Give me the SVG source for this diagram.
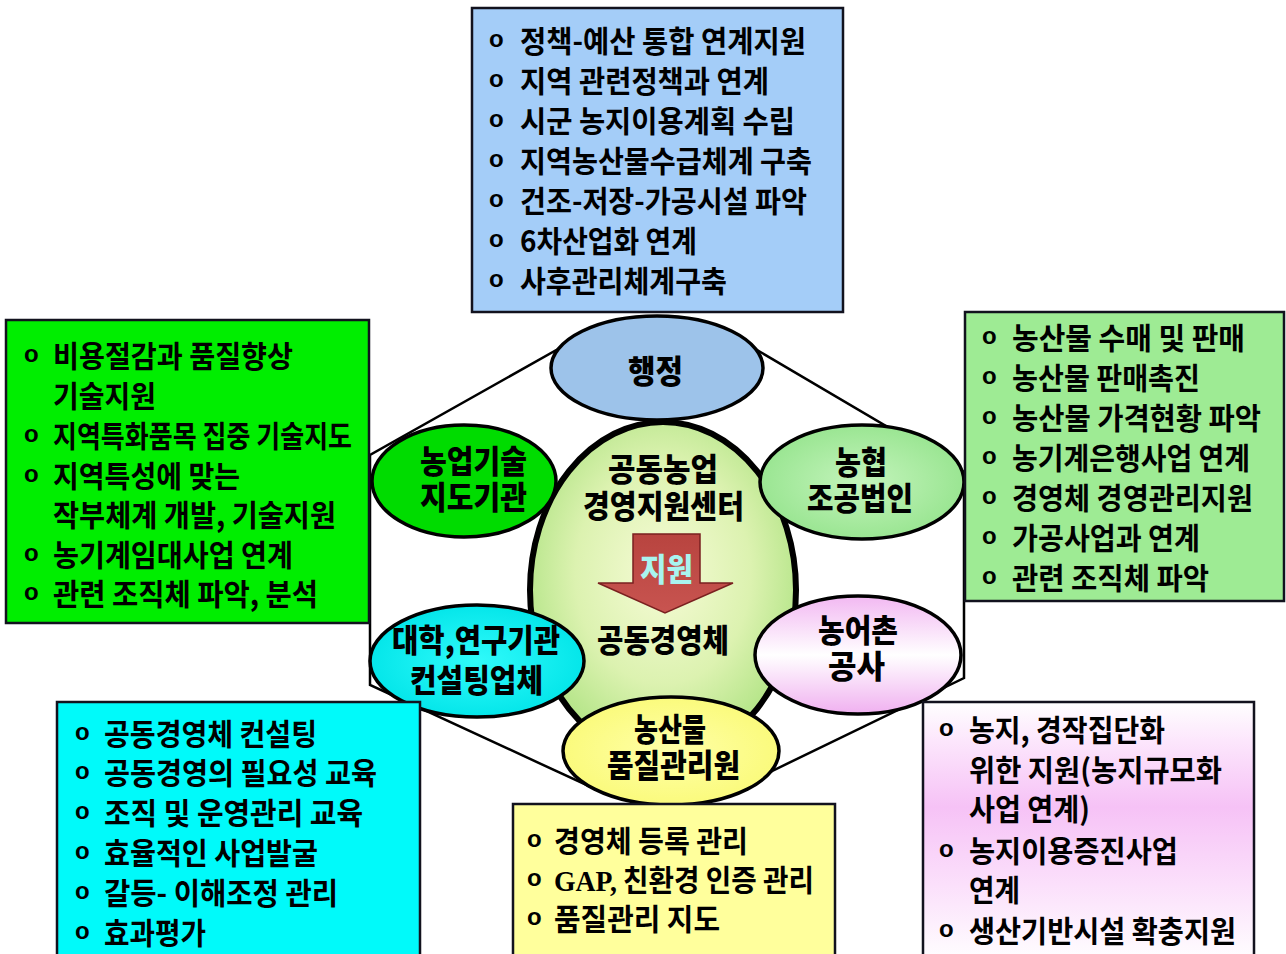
<svg xmlns="http://www.w3.org/2000/svg" width="1286" height="954" viewBox="0 0 1286 954">
<style>
.t{font-family:"Noto Sans CJK KR","Noto Sans CJK SC",sans-serif;font-weight:700;font-size:30px;fill:#000}
.b{font-family:"Liberation Sans",Arial,sans-serif;font-weight:700;font-size:24px;fill:#000}
.l{font-family:"Noto Sans CJK KR","Noto Sans CJK SC",sans-serif;font-weight:900;font-size:32px;fill:#000}
.box{stroke:#12121e;stroke-width:2.5}
.el{stroke:#000;stroke-width:3.5}
.hex{fill:none;stroke:#000;stroke-width:2.5}
</style>
<defs>
<radialGradient id="gc" cx="0.5" cy="0.45" r="0.55">
<stop offset="0" stop-color="#f6fbd6"/><stop offset="0.6" stop-color="#dcf2b0"/><stop offset="1" stop-color="#b2e486"/>
</radialGradient>
<radialGradient id="gn" cx="0.5" cy="0.5" r="0.55">
<stop offset="0" stop-color="#c4f4bc"/><stop offset="1" stop-color="#96e48e"/>
</radialGradient>
<radialGradient id="gcy" cx="0.5" cy="0.5" r="0.55">
<stop offset="0" stop-color="#30fafa"/><stop offset="1" stop-color="#00e4e8"/>
</radialGradient>
<radialGradient id="gy" cx="0.5" cy="0.5" r="0.55">
<stop offset="0" stop-color="#ffffa8"/><stop offset="1" stop-color="#fafa78"/>
</radialGradient>
<linearGradient id="gp" x1="0" y1="0" x2="0" y2="1">
<stop offset="0" stop-color="#f2b8f2"/><stop offset="0.5" stop-color="#ffffff"/><stop offset="1" stop-color="#f0b0f0"/>
</linearGradient>
<linearGradient id="gpb" x1="0" y1="0" x2="0" y2="1">
<stop offset="0" stop-color="#ffffff"/><stop offset="0.15" stop-color="#fce6fc"/><stop offset="0.4" stop-color="#f6c2f6"/><stop offset="0.7" stop-color="#fbe0fb"/><stop offset="1" stop-color="#ffffff"/>
</linearGradient>
<linearGradient id="ga" x1="0" y1="0" x2="0" y2="1">
<stop offset="0" stop-color="#b8443f"/><stop offset="1" stop-color="#c85450"/>
</linearGradient>
</defs>

<g id="connectors">
<polygon class="hex" points="560,348 757,350 964,472 964,678 770,772 593,788 370,685 370,455"/>
</g>

<g id="node-center">
<ellipse cx="663" cy="590" rx="133" ry="168" fill="url(#gc)" stroke="#000" stroke-width="6"/>
<text class="l" x="608" y="481" textLength="110" lengthAdjust="spacingAndGlyphs">공동농업</text>
<text class="l" x="583" y="518" textLength="161" lengthAdjust="spacingAndGlyphs">경영지원센터</text>
<polygon points="633,534 700,534 700,583 733,583 665,613 598,583 633,583" fill="url(#ga)" stroke="#7a2020" stroke-width="1.5"/>
<text class="l" x="640" y="581" textLength="53" lengthAdjust="spacingAndGlyphs" style="fill:#a8f4f0">지원</text>
<text class="l" x="597" y="652" textLength="132" lengthAdjust="spacingAndGlyphs">공동경영체</text>
</g>

<g id="node-haengjeong">
<ellipse class="el" cx="657" cy="368" rx="106" ry="52" fill="#9dc3ea"/>
<text class="l" x="628" y="383" textLength="55" lengthAdjust="spacingAndGlyphs">행정</text>
</g>

<g id="node-nongup">
<ellipse class="el" cx="464" cy="481" rx="92" ry="56" fill="#00dc00"/>
<text class="l" x="420" y="473" textLength="107" lengthAdjust="spacingAndGlyphs">농업기술</text>
<text class="l" x="420" y="509" textLength="107" lengthAdjust="spacingAndGlyphs">지도기관</text>
</g>

<g id="node-nonghyup">
<ellipse class="el" cx="862" cy="482" rx="102" ry="57" fill="url(#gn)"/>
<text class="l" x="835" y="474" textLength="52" lengthAdjust="spacingAndGlyphs">농협</text>
<text class="l" x="807" y="510" textLength="106" lengthAdjust="spacingAndGlyphs">조공법인</text>
</g>

<g id="node-univ">
<ellipse class="el" cx="477" cy="661" rx="107" ry="56" fill="url(#gcy)"/>
<text class="l" x="392" y="652" textLength="168" lengthAdjust="spacingAndGlyphs">대학,연구기관</text>
<text class="l" x="410" y="692" textLength="133" lengthAdjust="spacingAndGlyphs">컨설팅업체</text>
</g>

<g id="node-nongeochon">
<ellipse class="el" cx="858" cy="655" rx="103" ry="59" fill="url(#gp)"/>
<text class="l" x="818" y="642" textLength="80" lengthAdjust="spacingAndGlyphs">농어촌</text>
<text class="l" x="828" y="678" textLength="57" lengthAdjust="spacingAndGlyphs">공사</text>
</g>

<g id="node-quality">
<ellipse class="el" cx="671" cy="751" rx="108" ry="54" fill="url(#gy)"/>
<text class="l" x="634" y="741" textLength="72" lengthAdjust="spacingAndGlyphs">농산물</text>
<text class="l" x="607" y="777" textLength="133" lengthAdjust="spacingAndGlyphs">품질관리원</text>
</g>

<g id="box-top">
<rect class="box" x="472" y="8" width="371" height="304" fill="#a4cdf8"/>
<text class="b" x="489" y="47">o</text><text class="t" x="520" y="52" textLength="286" lengthAdjust="spacingAndGlyphs">정책-예산 통합 연계지원</text>
<text class="b" x="489" y="87">o</text><text class="t" x="520" y="92" textLength="249" lengthAdjust="spacingAndGlyphs">지역 관련정책과 연계</text>
<text class="b" x="489" y="127">o</text><text class="t" x="520" y="132" textLength="275" lengthAdjust="spacingAndGlyphs">시군 농지이용계획 수립</text>
<text class="b" x="489" y="167">o</text><text class="t" x="520" y="172" textLength="292" lengthAdjust="spacingAndGlyphs">지역농산물수급체계 구축</text>
<text class="b" x="489" y="207">o</text><text class="t" x="520" y="212" textLength="287" lengthAdjust="spacingAndGlyphs">건조-저장-가공시설 파악</text>
<text class="b" x="489" y="247">o</text><text class="t" x="520" y="252" textLength="177" lengthAdjust="spacingAndGlyphs">6차산업화 연계</text>
<text class="b" x="489" y="287">o</text><text class="t" x="520" y="292" textLength="207" lengthAdjust="spacingAndGlyphs">사후관리체계구축</text>
</g>

<g id="box-left">
<rect class="box" x="6" y="320" width="363" height="303" fill="#00ee00"/>
<text class="b" x="24" y="362">o</text><text class="t" x="53" y="367" textLength="240" lengthAdjust="spacingAndGlyphs">비용절감과 품질향상</text>
<text class="t" x="53" y="407" textLength="103" lengthAdjust="spacingAndGlyphs">기술지원</text>
<text class="b" x="24" y="442">o</text><text class="t" x="53" y="447" textLength="299" lengthAdjust="spacingAndGlyphs">지역특화품목 집중 기술지도</text>
<text class="b" x="24" y="482">o</text><text class="t" x="53" y="487" textLength="187" lengthAdjust="spacingAndGlyphs">지역특성에 맞는</text>
<text class="t" x="53" y="526" textLength="283" lengthAdjust="spacingAndGlyphs">작부체계 개발, 기술지원</text>
<text class="b" x="24" y="561">o</text><text class="t" x="53" y="566" textLength="240" lengthAdjust="spacingAndGlyphs">농기계임대사업 연계</text>
<text class="b" x="24" y="600">o</text><text class="t" x="53" y="605" textLength="265" lengthAdjust="spacingAndGlyphs">관련 조직체 파악, 분석</text>
</g>

<g id="box-right">
<rect class="box" x="965" y="312" width="319" height="289" fill="#9eeb94"/>
<text class="b" x="982" y="344">o</text><text class="t" x="1012" y="349" textLength="233" lengthAdjust="spacingAndGlyphs">농산물 수매 및 판매</text>
<text class="b" x="982" y="384">o</text><text class="t" x="1012" y="389" textLength="188" lengthAdjust="spacingAndGlyphs">농산물 판매촉진</text>
<text class="b" x="982" y="424">o</text><text class="t" x="1012" y="429" textLength="249" lengthAdjust="spacingAndGlyphs">농산물 가격현황 파악</text>
<text class="b" x="982" y="464">o</text><text class="t" x="1012" y="469" textLength="238" lengthAdjust="spacingAndGlyphs">농기계은행사업 연계</text>
<text class="b" x="982" y="504">o</text><text class="t" x="1012" y="509" textLength="241" lengthAdjust="spacingAndGlyphs">경영체 경영관리지원</text>
<text class="b" x="982" y="544">o</text><text class="t" x="1012" y="549" textLength="188" lengthAdjust="spacingAndGlyphs">가공사업과 연계</text>
<text class="b" x="982" y="584">o</text><text class="t" x="1012" y="589" textLength="197" lengthAdjust="spacingAndGlyphs">관련 조직체 파악</text>
</g>

<g id="box-bottom-left">
<rect class="box" x="57" y="702" width="363" height="262" fill="#00fafa"/>
<text class="b" x="75" y="740">o</text><text class="t" x="104" y="745" textLength="213" lengthAdjust="spacingAndGlyphs">공동경영체 컨설팅</text>
<text class="b" x="75" y="779">o</text><text class="t" x="104" y="784" textLength="273" lengthAdjust="spacingAndGlyphs">공동경영의 필요성 교육</text>
<text class="b" x="75" y="819">o</text><text class="t" x="104" y="824" textLength="259" lengthAdjust="spacingAndGlyphs">조직 및 운영관리 교육</text>
<text class="b" x="75" y="859">o</text><text class="t" x="104" y="864" textLength="214" lengthAdjust="spacingAndGlyphs">효율적인 사업발굴</text>
<text class="b" x="75" y="899">o</text><text class="t" x="104" y="904" textLength="234" lengthAdjust="spacingAndGlyphs">갈등- 이해조정 관리</text>
<text class="b" x="75" y="939">o</text><text class="t" x="104" y="944" textLength="102" lengthAdjust="spacingAndGlyphs">효과평가</text>
</g>

<g id="box-bottom-mid">
<rect class="box" x="513" y="804" width="322" height="160" fill="#ffff9c"/>
<text class="b" x="527" y="847">o</text><text class="t" x="554" y="852" textLength="194" lengthAdjust="spacingAndGlyphs">경영체 등록 관리</text>
<text class="b" x="527" y="886">o</text><text class="t" x="554" y="891" textLength="260" lengthAdjust="spacingAndGlyphs"><tspan style="font-family:'Liberation Serif',serif">GAP,</tspan> 친환경 인증 관리</text>
<text class="b" x="527" y="925">o</text><text class="t" x="554" y="930" textLength="166" lengthAdjust="spacingAndGlyphs">품질관리 지도</text>
</g>

<g id="box-bottom-right">
<rect class="box" x="923" y="702" width="331" height="262" fill="url(#gpb)"/>
<text class="b" x="939" y="736">o</text><text class="t" x="969" y="741" textLength="196" lengthAdjust="spacingAndGlyphs">농지, 경작집단화</text>
<text class="t" x="969" y="781" textLength="253" lengthAdjust="spacingAndGlyphs">위한 지원(농지규모화</text>
<text class="t" x="969" y="820" textLength="121" lengthAdjust="spacingAndGlyphs">사업 연계)</text>
<text class="b" x="939" y="857">o</text><text class="t" x="969" y="862" textLength="209" lengthAdjust="spacingAndGlyphs">농지이용증진사업</text>
<text class="t" x="969" y="901" textLength="51" lengthAdjust="spacingAndGlyphs">연계</text>
<text class="b" x="939" y="937">o</text><text class="t" x="969" y="942" textLength="267" lengthAdjust="spacingAndGlyphs">생산기반시설 확충지원</text>
</g>
</svg>
